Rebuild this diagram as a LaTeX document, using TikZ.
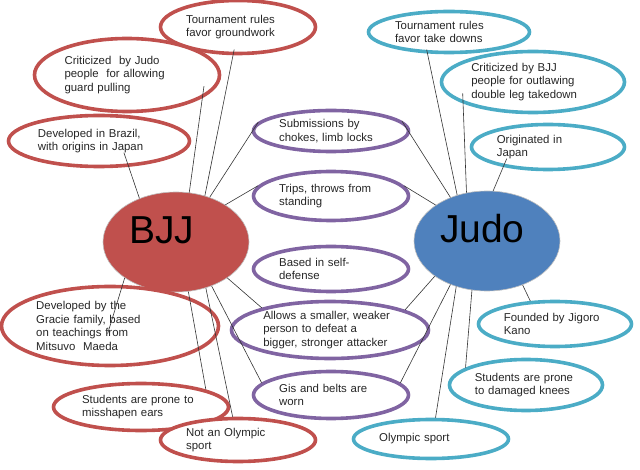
\documentclass[tikz,border=0pt]{standalone}
\usepackage{fontspec}
\setmainfont{Liberation Sans}
\usepackage{xcolor}
\usepackage{tikz}
\usetikzlibrary{shapes.geometric}

\definecolor{bjjred}{HTML}{C0504D}
\definecolor{bothpurple}{HTML}{8064A2}
\definecolor{judoteal}{HTML}{4BACC6}
\definecolor{judoblue}{HTML}{4F81BD}

\begin{document}
\begin{tikzpicture}[
  x=1pt, y=-1pt,
  hub/.style={ellipse, fill=#1, draw=black!25, line width=0.6pt,
              minimum width=146pt, minimum height=100pt, inner sep=0pt,
              text width=94pt, align=left, text height=28pt, text depth=24pt,
              font=\fontsize{39}{40}\selectfont},
  fact/.style={ellipse, draw=#1, line width=3.6pt, fill=white, inner sep=0pt,
               align=left, text=black!85, font=\fontsize{11.4}{13.4}\selectfont},
  oval/.style 2 args={minimum width=#1pt-3pt, minimum height=#2pt-3pt,
                      text width={0.707*#1pt-8pt}},
  link/.style={black!80, line width=0.6pt},
  poke/.style={shorten >=-#1}
]
  \useasboundingbox (0,0) rectangle (640,470);

  \node[hub=bjjred] (bjj) at (176,242) {BJJ};
  \node[hub=judoblue] (judo) at (487,241) {Judo};

  \node[fact=bjjred, oval={158}{56}] (tgr) at (238,27) {Tournament rules\\favor groundwork};
  \node[fact=bjjred, oval={188}{76}] (crj) at (127,75) {Criticized~ by Judo\\people~ for allowing\\guard pulling};
  \node[fact=bjjred, oval={184}{54}] (brazil) at (99,141) {Developed in Brazil,\\with origins in Japan};
  \node[fact=bjjred, oval={220}{82}] (gracie) at (110,326) {Developed by the\\Gracie family, based\\on teachings from\\Mitsuvo~ Maeda};
  \node[fact=bjjred, oval={178}{50}] (ears) at (141,407) {Students are prone to\\misshapen ears};
  \node[fact=bjjred, oval={158}{46}] (notoly) at (238,440) {Not an Olympic\\sport};

  \node[fact=bothpurple, oval={158}{44}] (subm) at (331,131) {Submissions by\\chokes, limb locks};
  \node[fact=bothpurple, oval={158}{52}] (trips) at (331,196) {Trips, throws from\\standing};
  \node[fact=bothpurple, oval={158}{48}] (based) at (331,269) {Based in self-\\defense};
  \node[fact=bothpurple, oval={200}{60}] (allows) at (330,330) {Allows a smaller, weaker\\person to defeat a\\bigger, stronger attacker};
  \node[fact=bothpurple, oval={158}{50}] (gis) at (331,395) {Gis and belts are\\worn};

  \node[fact=judoteal, oval={164}{44}] (ttd) at (449,32) {Tournament rules\\favor take downs};
  \node[fact=judoteal, oval={186}{64}] (crb) at (533,82) {Criticized by BJJ\\people for outlawing\\double leg takedown};
  \node[fact=judoteal, oval={156}{48}] (orig) at (548,147) {Originated in\\Japan};
  \node[fact=judoteal, oval={156}{48}] (kano) at (555,324) {Founded by Jigoro\\Kano};
  \node[fact=judoteal, oval={156}{54}] (knees) at (526,385) {Students are prone\\to damaged knees};
  \node[fact=judoteal, oval={158}{42}] (oly) at (431,439) {Olympic sport};

  \draw[link, poke=6pt] (bjj.58) -- (tgr.-100);
  \draw[link, poke=12pt] (bjj.75) -- (crj.-17);
  \draw[link, poke=15pt] (bjj.130) -- (brazil.-41);
  \draw[link] (bjj.53) -- (subm.173);
  \draw[link] (bjj.37) -- (trips.172);
  \draw[link] (bjj.-35) -- (allows.162);
  \draw[link] (bjj.-51) -- (gis.170);
  \draw[link] (bjj.-57) -- (notoly.103);
  \draw[link] (bjj.-76) -- (ears.15);
  \draw[link, poke=8pt] (bjj.-145) -- (gracie.center);

  \draw[link, poke=4pt] (judo.123) -- (ttd.-135);
  \draw[link, poke=10pt] (judo.113) -- (crb.-163);
  \draw[link, poke=9pt] (judo.83) -- (orig.-156);
  \draw[link] (judo.130) -- (subm.8);
  \draw[link] (judo.145) -- (trips.8);
  \draw[link] (judo.-146) -- (allows.15);
  \draw[link] (judo.-130) -- (gis.10);
  \draw[link] (judo.-124) -- (oly.78);
  \draw[link] (judo.-107) -- (knees.164);
  \draw[link] (judo.-51) -- (kano.137);
\end{tikzpicture}
\end{document}
